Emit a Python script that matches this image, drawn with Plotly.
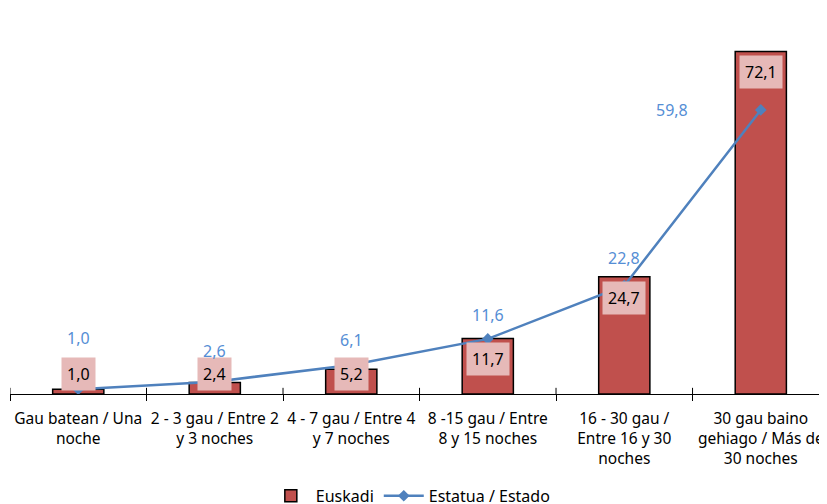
import plotly.graph_objs as go

# categories and values
categories = [
    "Gau batean / Una<br>noche",
    "2 - 3 gau / Entre 2<br>y 3 noches",
    "4 - 7 gau / Entre 4<br>y 7 noches",
    "8 -15 gau / Entre<br>8 y 15 noches",
    "16 - 30 gau /<br>Entre 16 y 30<br>noches",
    "30 gau baino<br>gehiago / Más de<br>30 noches",
]
euskadi = [1.0, 2.4, 5.2, 11.7, 24.7, 72.1]
estatua = [1.0, 2.6, 6.1, 11.6, 22.8, 59.8]

# label offsets (pixels) for the Estatua labels
estatua_shift = [(0, 51), (0, 31), (0, 25), (0, 24), (0, 28), (-89, 0)]

FONT = "Noto Sans"
fmt = lambda v: f"{v:.1f}".replace(".", ",")

fig = go.Figure()

fig.add_trace(go.Bar(
    x=categories,
    y=euskadi,
    name="Euskadi",
    width=0.375,
    marker=dict(color="#C0504D", line=dict(color="black", width=1.5)),
))

fig.add_trace(go.Scatter(
    x=categories,
    y=estatua,
    name="Estatua / Estado",
    mode="lines+markers",
    line=dict(color="#4F81BD", width=2.5),
    marker=dict(symbol="diamond", size=9, color="#4F81BD"),
))

# Euskadi labels: inside end of bar, pushed up for short bars
for c, v in zip(categories, euskadi):
    fig.add_annotation(
        x=c, y=max(v - 4.4, 4.3), text=fmt(v), showarrow=False,
        font=dict(family=FONT, size=16, color="black"),
        bgcolor="#E6B9B8", borderpad=5,
    )

for c, v, (dx, dy) in zip(categories, estatua, estatua_shift):
    fig.add_annotation(
        x=c, y=v, text=fmt(v), showarrow=False,
        xshift=dx, yshift=dy,
        font=dict(family=FONT, size=16, color="#558ED5"),
    )

# upper half of the crossing tick marks
for i in range(len(categories) + 1):
    fig.add_shape(type="line", xref="x", yref="y",
                  x0=i - 0.5, x1=i - 0.5, y0=0, y1=1.3,
                  line=dict(color="black", width=1))

# page body has an 8px margin, so the margins are shifted to compensate
fig.update_layout(
    width=827, height=504,
    margin=dict(l=2, r=8, t=6, b=118, autoexpand=False),
    plot_bgcolor="white", paper_bgcolor="white",
    font=dict(family=FONT, size=16, color="black"),
    showlegend=True,
    legend=dict(orientation="h", x=0.49, xanchor="center", y=-0.268, yanchor="middle",
                font=dict(size=16), itemwidth=40),
    bargap=0.6,
)
fig.update_xaxes(
    range=[-0.5, 5.485], tickangle=0, automargin=False,
    showline=True, linecolor="black", linewidth=1,
    ticks="outside", ticklen=6, tickcolor="black", tickson="boundaries",
    ticklabelstandoff=10, tickfont=dict(size=15.5),
    showgrid=False,
)
fig.update_yaxes(range=[0, 80], visible=False)

fig.write_html("out.html")
